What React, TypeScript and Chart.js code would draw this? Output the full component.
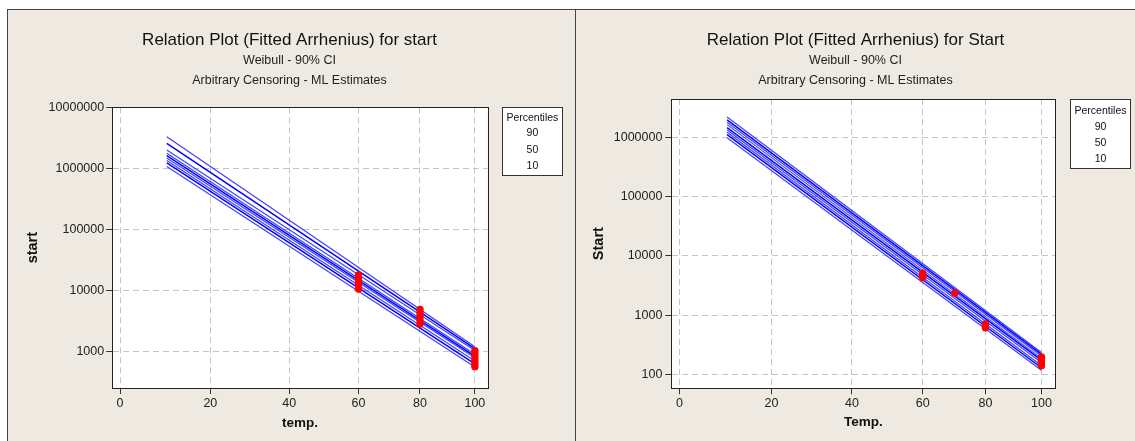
import React, { useEffect, useRef } from 'react';
import { Chart, registerables } from 'chart.js';

Chart.register(...registerables);

const FONT = "'Liberation Sans', Arial, sans-serif";
const BG = '#EEEAE1';
const K0 = 273.16;
// Arrhenius axis: position is linear in -1/(T + 273.16)
const toU = (t: number) => -1000 / (t + K0);
const fromU = (u: number) => -1000 / u - K0;

const tempTicks = [0, 20, 40, 60, 80, 100];
const percentiles = ['90', '50', '10'];
const lineTemps = [10, 100];
const subtitleLines = ['Weibull - 90% CI', 'Arbitrary Censoring - ML Estimates'];

// Left panel ("start")
const leftTitle = 'Relation Plot (Fitted Arrhenius) for start';
const leftYTicks = [1000, 10000, 100000, 1000000, 10000000];
const leftLineAt10 = [3311000, 2570000, 1995000, 1778000, 1622000, 1479000, 1349000, 1230000, 1072000];
const leftLineAt100 = [1202, 1122, 1047, 912, 851, 794, 708, 631, 562];
const leftObsTemp = [60, 60, 60, 60, 60, 60, 80, 80, 80, 80, 80, 100, 100, 100, 100, 100, 100];
const leftObsValue = [10600, 12000, 13500, 15000, 16500, 18000, 2850, 3300, 3800, 4300, 4900, 570, 640, 720, 810, 920, 1040];

// Right panel ("Start")
const rightTitle = 'Relation Plot (Fitted Arrhenius) for Start';
const rightYTicks = [100, 1000, 10000, 100000, 1000000];
const rightLineAt10 = [2239000, 1995000, 1820000, 1660000, 1479000, 1349000, 1230000, 1122000, 1000000];
const rightLineAt100 = [234, 219, 204, 186, 174, 158, 141, 129, 117];
const rightObsTemp = [60, 60, 60, 70, 80, 80, 80, 100, 100, 100, 100, 100];
const rightObsValue = [4300, 4700, 5100, 2370, 610, 660, 710, 140, 155, 170, 185, 196];

type PanelCfg = {
  title: string; yTitle: string; xTitle: string;
  yTicks: number[]; yMin: number; yMax: number;
  tMin: number; tMax: number;
  lineStart: number[]; lineEnd: number[];
  obsT: number[]; obsV: number[];
  width: number; height: number;
  yAxisWidth: number; rightWidth: number; padRight: number;
  xAxisHeight: number; titlePadTop: number; subPadBottom: number;
  yTitlePad: number; yTickPad: number; xTitlePad: number;
  legendDx: number; legendW: number; legendH: number; legendRows: number[];
};

const leftCfg: PanelCfg = {
  title: leftTitle, yTitle: 'start', xTitle: 'temp.',
  yTicks: leftYTicks, yMin: 255, yMax: 10000000,
  tMin: -1.6, tMax: 105.0,
  lineStart: leftLineAt10, lineEnd: leftLineAt100,
  obsT: leftObsTemp, obsV: leftObsValue,
  width: 567, height: 431,
  yAxisWidth: 104.2, rightWidth: 83.3, padRight: 4,
  xAxisHeight: 53, titlePadTop: 20.5, subPadBottom: 17,
  yTitlePad: 16, yTickPad: 2, xTitlePad: 9.9,
  legendDx: 14.7, legendW: 59.8, legendH: 68.4, legendRows: [10.4, 26, 42.4, 58.4],
};

const rightCfg: PanelCfg = {
  title: rightTitle, yTitle: 'Start', xTitle: 'Temp.',
  yTicks: rightYTicks, yMin: 58, yMax: 4500000,
  tMin: -1.6, tMax: 105.35,
  lineStart: rightLineAt10, lineEnd: rightLineAt100,
  obsT: rightObsTemp, obsV: rightObsValue,
  width: 559, height: 431,
  yAxisWidth: 95.4, rightWidth: 79.6, padRight: 0,
  xAxisHeight: 52.7, titlePadTop: 20.5, subPadBottom: 8.7,
  yTitlePad: 14, yTickPad: 3, xTitlePad: 10.2,
  legendDx: 14.2, legendW: 60, legendH: 68.7, legendRows: [12, 27.7, 44, 60],
};

function Panel({ cfg }: { cfg: PanelCfg }) {
  const ref = useRef<HTMLCanvasElement>(null);
  useEffect(() => {
    const lineSets = cfg.lineStart.map((s, i) => ({
      data: [
        { x: toU(lineTemps[0]), y: s },
        { x: toU(lineTemps[1]), y: cfg.lineEnd[i] },
      ],
      showLine: true,
      borderColor: i % 3 === 1 ? '#0000FF' : 'rgba(30,30,255,0.85)',
      borderWidth: i % 3 === 1 ? 1.5 : 1.2,
      pointRadius: 0,
      pointHoverRadius: 0,
    }));
    const pts = {
      data: cfg.obsT.map((t, i) => ({ x: toU(t), y: cfg.obsV[i] })),
      showLine: false,
      pointRadius: 3.7,
      pointHoverRadius: 3.7,
      backgroundColor: '#FF0000',
      borderColor: '#FF0000',
      borderWidth: 0,
    };
    const framePlugin = {
      id: 'frame',
      beforeDraw(chart: any) {
        const { ctx, chartArea: a } = chart;
        ctx.save();
        ctx.fillStyle = '#FFFFFF';
        ctx.fillRect(a.left, a.top, a.right - a.left, a.bottom - a.top);
        ctx.restore();
      },
      afterDatasetsDraw(chart: any) {
        const { ctx, chartArea: a } = chart;
        ctx.save();
        ctx.strokeStyle = '#222';
        ctx.lineWidth = 1;
        ctx.strokeRect(Math.round(a.left) + 0.5, Math.round(a.top) + 0.5, Math.round(a.right - a.left), Math.round(a.bottom - a.top));
        ctx.restore();
      },
      afterDraw(chart: any) {
        const { ctx, chartArea: a } = chart;
        const x = Math.round(a.right + cfg.legendDx) + 0.5;
        const y = Math.round(a.top) + 0.5;
        ctx.save();
        ctx.fillStyle = '#FFFFFF';
        ctx.fillRect(x, y, cfg.legendW, cfg.legendH);
        ctx.strokeStyle = '#333';
        ctx.lineWidth = 1;
        ctx.strokeRect(x, y, Math.round(cfg.legendW), Math.round(cfg.legendH));
        ctx.fillStyle = '#111';
        ctx.font = `10.5px ${FONT}`;
        ctx.textAlign = 'center';
        ctx.textBaseline = 'middle';
        const rows = ['Percentiles', ...percentiles];
        rows.forEach((r, i) => ctx.fillText(r, x + cfg.legendW / 2, y + cfg.legendRows[i]));
        ctx.restore();
      },
    };
    const tickFont = { family: FONT, size: 12.5 };
    const chart = new Chart(ref.current as HTMLCanvasElement, {
      type: 'scatter',
      data: { datasets: [pts, ...lineSets] as any },
      options: {
        animation: false,
        responsive: false,
        events: [],
        layout: { padding: { left: 0, right: cfg.padRight, top: 0, bottom: 0 } },
        plugins: {
          legend: { display: false },
          tooltip: { enabled: false },
          title: {
            display: true,
            text: cfg.title,
            color: '#111',
            font: { family: FONT, size: 17, weight: 'normal', lineHeight: 1.2 },
            padding: { top: cfg.titlePadTop, bottom: 0 },
          },
          subtitle: {
            display: true,
            text: subtitleLines,
            color: '#222',
            font: { family: FONT, size: 12.5, weight: 'normal', lineHeight: 19.7 / 12.5 },
            padding: { top: 0, bottom: cfg.subPadBottom },
          },
        },
        scales: {
          x: {
            type: 'linear',
            bounds: 'data',
            min: toU(cfg.tMin),
            max: toU(cfg.tMax),
            afterBuildTicks: (s: any) => { s.ticks = tempTicks.map((t) => ({ value: toU(t) })); },
            afterFit: (s: any) => { s.height = cfg.xAxisHeight; },
            ticks: {
              callback: (v: any) => String(Math.round(fromU(Number(v)))),
              font: tickFont, color: '#222', padding: 2, maxRotation: 0, autoSkip: false,
            },
            grid: { color: '#C4C4C4', lineWidth: 1, tickLength: 6, tickColor: '#333', tickWidth: 1, tickBorderDash: [] },
            border: { display: true, color: '#222', dash: [6, 4] },
            title: {
              display: true, text: cfg.xTitle, color: '#111',
              font: { family: FONT, size: 13.5, weight: 'bold', lineHeight: 1.2 },
              padding: { top: 0, bottom: cfg.xTitlePad },
            },
          },
          y: {
            type: 'logarithmic',
            bounds: 'data',
            min: cfg.yMin,
            max: cfg.yMax,
            afterBuildTicks: (s: any) => { s.ticks = cfg.yTicks.map((v) => ({ value: v })); },
            afterFit: (s: any) => { s.width = cfg.yAxisWidth; },
            ticks: {
              callback: (v: any) => String(Math.round(Number(v))),
              font: tickFont, color: '#222', padding: cfg.yTickPad, autoSkip: false,
            },
            grid: { color: '#C4C4C4', lineWidth: 1, tickLength: 6, tickColor: '#333', tickWidth: 1, tickBorderDash: [] },
            border: { display: true, color: '#222', dash: [6, 4] },
            title: {
              display: true, text: cfg.yTitle, color: '#111',
              font: { family: FONT, size: 14.5, weight: 'bold', lineHeight: 1.2 },
              padding: { top: cfg.yTitlePad, bottom: 0 },
            },
          },
          y2: {
            type: 'linear',
            position: 'right',
            display: true,
            afterFit: (s: any) => { s.width = cfg.rightWidth; },
            ticks: { display: false },
            grid: { display: false, drawTicks: false },
            border: { display: false },
          },
        },
      } as any,
      plugins: [framePlugin],
    });
    return () => chart.destroy();
  }, []);
  return <canvas ref={ref} width={cfg.width} height={cfg.height} style={{ display: 'block', width: cfg.width, height: cfg.height }} />;
}

export default function App() {
  const panelStyle = {
    position: 'absolute' as const,
    top: 9,
    height: 432,
    background: BG,
    borderLeft: '1px solid #444',
    borderTop: '1px solid #444',
    boxSizing: 'border-box' as const,
  };
  return (
    <div style={{ position: 'fixed', left: 0, top: 0, width: 1135, height: 441, background: '#FFFFFF', overflow: 'hidden' }}>
      <div style={{ ...panelStyle, left: 7, width: 568 }}>
        <Panel cfg={leftCfg} />
      </div>
      <div style={{ ...panelStyle, left: 575, width: 560 }}>
        <Panel cfg={rightCfg} />
      </div>
    </div>
  );
}
